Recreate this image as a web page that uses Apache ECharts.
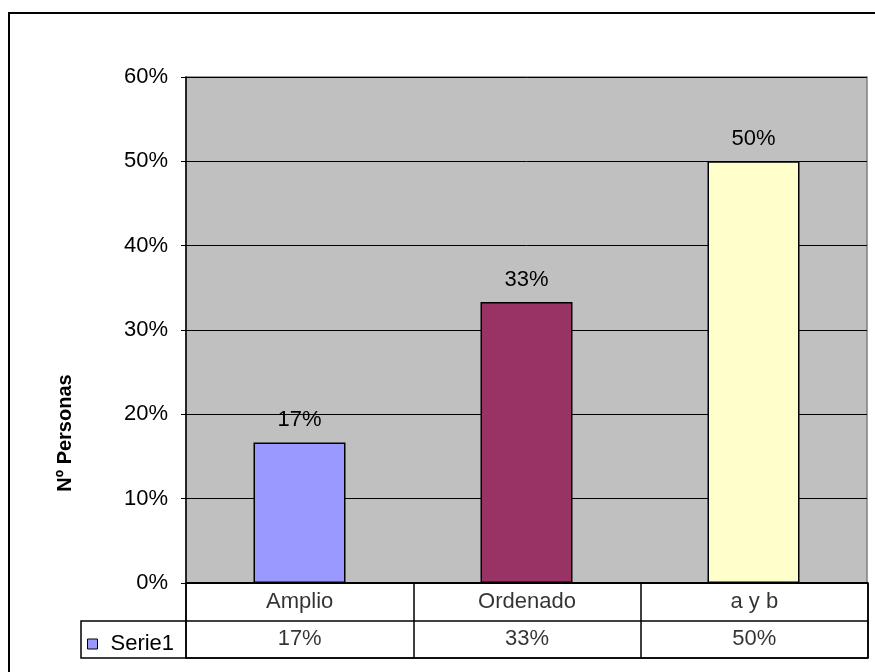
<!DOCTYPE html>
<html>
<head>
<meta charset="utf-8">
<script src="https://cdn.jsdelivr.net/npm/echarts@6/dist/echarts.min.js"></script>
<style>
  html, body { margin: 0; padding: 0; background: #ffffff; }
  #chart { width: 875px; height: 672px; }
</style>
</head>
<body>
<div id="chart"></div>
<script>
// Categories and values (percent of people)
const categories = ['Amplio', 'Ordenado', 'a y b'];
const values = [16.67, 33.33, 50];
const barColors = ['#9999FF', '#993366', '#FFFFCC'];
const seriesName = 'Serie1';
const yTicks = [0, 10, 20, 30, 40, 50, 60];
const axisTitle = 'Nº Personas';

const FONT = "'Liberation Sans', Arial, sans-serif";
const FS = 22;
const pct = v => Math.round(v) + '%';

const chart = echarts.init(document.getElementById('chart'), null, { renderer: 'canvas' });

// Text cells of the data table: row 1 = category names, row 2 = values
const tableCells = [];
categories.forEach((c, i) => {
  tableCells.push({ value: [c, 1.5], text: c });
  tableCells.push({ value: [c, 0.5], text: pct(values[i]) });
});

chart.setOption({
  animation: false,
  backgroundColor: '#ffffff',
  textStyle: { fontFamily: FONT },
  grid: [
    { // plot area
      left: 186, top: 77, right: 8, bottom: 89,
      show: true, backgroundColor: '#C0C0C0', borderColor: '#808080', borderWidth: 1.5
    },
    { // data table under the plot
      left: 186, top: 583, right: 7, height: 75,
      show: true, backgroundColor: '#ffffff', borderColor: '#000000', borderWidth: 1.5
    }
  ],
  xAxis: [
    {
      gridIndex: 0, type: 'category', data: categories,
      axisLine: { lineStyle: { color: '#000', width: 2 } },
      axisTick: { show: false }, axisLabel: { show: false }, splitLine: { show: false }
    },
    {
      gridIndex: 1, type: 'category', data: categories,
      axisLine: { show: false }, axisTick: { show: false }, axisLabel: { show: false },
      splitLine: { show: true, lineStyle: { color: '#000', width: 1.5 } }
    }
  ],
  yAxis: [
    {
      gridIndex: 0, type: 'value', min: yTicks[0], max: yTicks[yTicks.length - 1], interval: 10,
      axisLine: { show: true, lineStyle: { color: '#000', width: 1.5 } },
      axisTick: { show: true, inside: false, length: 5, lineStyle: { color: '#000' } },
      axisLabel: { formatter: '{value}%', color: '#000', fontSize: FS, fontFamily: FONT, margin: 18 },
      splitLine: { show: true, lineStyle: { color: '#000', width: 1 } }
    },
    {
      gridIndex: 1, type: 'value', min: 0, max: 2, interval: 1,
      axisLine: { show: false }, axisTick: { show: false }, axisLabel: { show: false },
      splitLine: { show: true, lineStyle: { color: '#000', width: 1.5 } }
    }
  ],
  legend: {
    left: 87, top: 633, padding: 0,
    icon: 'rect', itemWidth: 10, itemHeight: 10, itemGap: 10,
    itemStyle: { borderColor: '#000', borderWidth: 1 },
    textStyle: { fontSize: FS, color: '#000', fontFamily: FONT, padding: [0, 0, 0, 8] },
    data: [seriesName]
  },
  series: [
    {
      name: seriesName, type: 'bar', xAxisIndex: 0, yAxisIndex: 0,
      barWidth: 92,
      itemStyle: { color: barColors[0], borderColor: '#000', borderWidth: 1.5 },
      label: {
        show: true, position: 'top', distance: 11,
        formatter: p => pct(p.value), fontSize: FS, color: '#000', fontFamily: FONT
      },
      data: values.map((v, i) => ({ value: v, itemStyle: { color: barColors[i] } }))
    },
    {
      type: 'scatter', xAxisIndex: 1, yAxisIndex: 1,
      symbolSize: 0, silent: true,
      label: {
        show: true, position: 'inside', formatter: p => p.data.text,
        fontSize: FS, color: '#000', fontFamily: FONT
      },
      data: tableCells
    }
  ],
  graphic: [
    { // outer chart frame
      type: 'rect', shape: { x: 9, y: 13, width: 900, height: 700 },
      style: { fill: 'none', stroke: '#000', lineWidth: 2 }, z: -1
    },
    { // legend cell of the data table
      type: 'polyline', shape: { points: [[186, 621], [81, 621], [81, 658], [186, 658]] },
      style: { fill: 'none', stroke: '#000', lineWidth: 1.5 }
    },
    { // value axis title
      type: 'text', x: 65, y: 433, rotation: Math.PI / 2,
      style: {
        text: axisTitle, font: 'bold 20px ' + FONT, fill: '#000',
        textAlign: 'center', textVerticalAlign: 'middle'
      }
    }
  ]
});
</script>
</body>
</html>
